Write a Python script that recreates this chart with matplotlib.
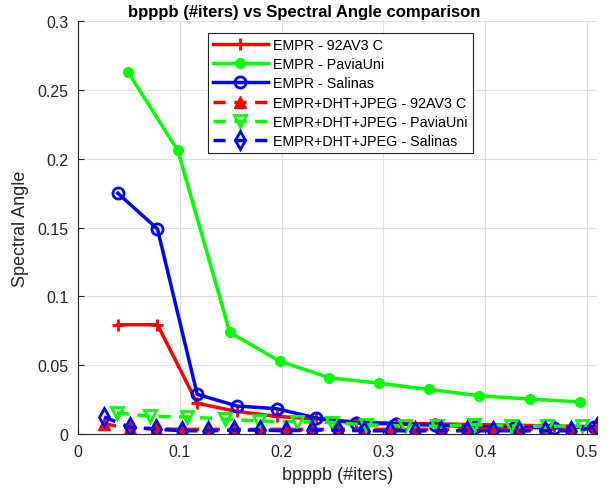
import numpy as np
import matplotlib.pyplot as plt

# EMPR series (bpppb, spectral angle)
x_empr_92 = [0.039, 0.078, 0.117, 0.156, 0.195, 0.234, 0.273, 0.312, 0.351, 0.390, 0.429, 0.468, 0.507]
y_empr_92 = [0.0795, 0.0795, 0.0225, 0.0165, 0.013, 0.011, 0.009, 0.008, 0.0075, 0.007, 0.0065, 0.006, 0.0055]

x_empr_pavia = [0.049, 0.098, 0.149, 0.198, 0.247, 0.296, 0.345, 0.394, 0.444, 0.493]
y_empr_pavia = [0.263, 0.206, 0.074, 0.053, 0.041, 0.037, 0.0325, 0.028, 0.0255, 0.0235]

x_empr_sal = x_empr_92
y_empr_sal = [0.175, 0.149, 0.029, 0.0205, 0.0185, 0.0118, 0.008, 0.0075, 0.0065, 0.0055, 0.005, 0.0045, 0.0055]

# EMPR+DHT+JPEG series
x_dht_92 = [0.0255, 0.051, 0.0765, 0.102, 0.1275, 0.153, 0.1785, 0.204, 0.2295, 0.255,
            0.2805, 0.306, 0.3315, 0.357, 0.3825, 0.408, 0.4335, 0.459, 0.4845, 0.51]
y_dht_92 = [0.0075, 0.0045, 0.004, 0.0035, 0.0035, 0.0035, 0.0035, 0.0035, 0.0035, 0.0035,
            0.0035, 0.0035, 0.0035, 0.0035, 0.0035, 0.0035, 0.0035, 0.0035, 0.0035, 0.004]

x_dht_pavia = [0.038, 0.071, 0.107, 0.144, 0.178, 0.215, 0.249, 0.283, 0.321, 0.353, 0.389, 0.425, 0.461, 0.495]
y_dht_pavia = [0.0155, 0.013, 0.0125, 0.011, 0.0095, 0.009, 0.0085, 0.0068, 0.006, 0.0058, 0.007, 0.006, 0.0058, 0.0058]

x_dht_sal = x_dht_92
y_dht_sal = [0.0125, 0.005, 0.0037, 0.0025, 0.0025, 0.003, 0.003, 0.0025, 0.003, 0.003,
             0.0025, 0.0025, 0.0025, 0.0025, 0.0025, 0.0025, 0.0025, 0.0025, 0.0025, 0.005]

plt.rcParams['font.family'] = ['Liberation Sans', 'DejaVu Sans']

fig = plt.figure(figsize=(6.15, 4.89), dpi=100)
ax = fig.add_axes([0.127, 0.110, 0.844, 0.845])

lw = 2.5
dash = (3.5, 2.5)
ax.plot(x_empr_92, y_empr_92, '-', color='#ff0000', lw=lw, marker='+', ms=8, mew=2,
        label='EMPR - 92AV3 C')
ax.plot(x_empr_pavia, y_empr_pavia, '-', color='#00ff00', lw=lw, marker='o', ms=7,
        label='EMPR - PaviaUni')
ax.plot(x_empr_sal, y_empr_sal, '-', color='#0000ff', lw=lw, marker='o', ms=8, mew=2,
        mfc='none', label='EMPR - Salinas')
ax.plot(x_dht_92, y_dht_92, '--', color='#ff0000', lw=lw, marker='^', ms=8,
        dashes=dash, label='EMPR+DHT+JPEG - 92AV3 C')
ax.plot(x_dht_pavia, y_dht_pavia, '--', color='#00ff00', lw=lw, marker='v', ms=9, mew=2,
        mfc='none', dashes=dash, label='EMPR+DHT+JPEG - PaviaUni')
ax.plot(x_dht_sal, y_dht_sal, '--', color='#0000ff', lw=lw, marker='d', ms=9, mew=2,
        mfc='none', dashes=dash, label='EMPR+DHT+JPEG - Salinas')

ax.set_xlim(0, 0.51)
ax.set_ylim(0, 0.3)
ax.set_xticks([0, 0.1, 0.2, 0.3, 0.4, 0.5])
ax.set_xticklabels(['0', '0.1', '0.2', '0.3', '0.4', '0.5'])
ax.set_yticks([0, 0.05, 0.1, 0.15, 0.2, 0.25, 0.3])
ax.set_yticklabels(['0', '0.05', '0.1', '0.15', '0.2', '0.25', '0.3'])
ax.tick_params(direction='in', labelsize=11.5, colors='#262626', length=4, pad=7)
ax.grid(True, color='#dfdfdf', lw=0.8)
ax.set_axisbelow(True)
for s in ['top', 'right']:
    ax.spines[s].set_visible(False)
for s in ['left', 'bottom']:
    ax.spines[s].set_color('#262626')

ax.set_xlabel('bpppb (#iters)', fontsize=13, color='#262626', labelpad=5)
ax.set_ylabel('Spectral Angle', fontsize=13, color='#262626', labelpad=6)
fig.text(0.494, 0.975, 'bpppb (#iters) vs Spectral Angle comparison', fontsize=12,
         fontweight='bold', ha='center', va='center')

leg = ax.legend(loc='upper center', bbox_to_anchor=(0.505, 0.988), fontsize=10.3,
                fancybox=False, framealpha=1, edgecolor='#262626',
                handlelength=3.9, borderpad=0.35, labelspacing=0.36, handletextpad=0.35)
leg.get_frame().set_linewidth(0.8)

fig.savefig('out.png', dpi=100)
